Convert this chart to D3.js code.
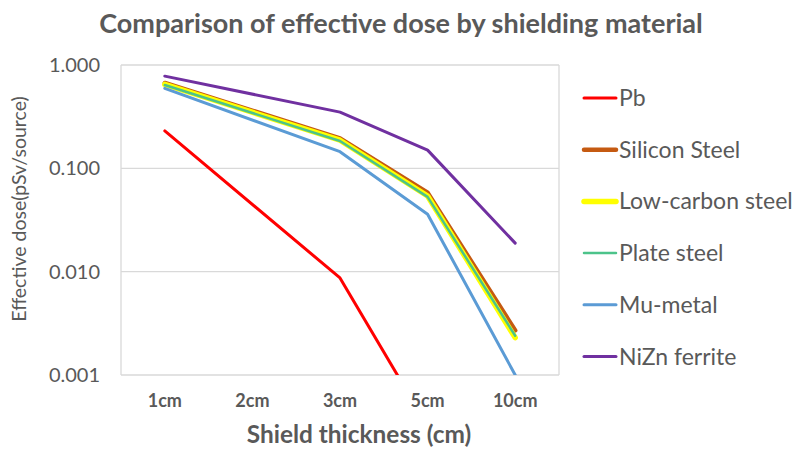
<!DOCTYPE html>
<html>
<head>
<meta charset="utf-8">
<script src="https://cdn.jsdelivr.net/npm/d3@7"></script>
<style>
  html, body { margin: 0; padding: 0; background: #fff; }
  svg { display: block; }
</style>
</head>
<body>
<svg id="chart" width="798" height="450"></svg>
<script>
const categories = ["1cm", "2cm", "3cm", "5cm", "10cm"];
const seriesNames = ["Pb", "Silicon Steel", "Low-carbon steel", "Plate steel", "Mu-metal", "NiZn ferrite"];
const pb           = [0.23, null, 0.0087, 0.00032, 0.00001];
const siliconSteel = [0.67, null, 0.195, 0.058, 0.0027];
const lowCarbon    = [0.65, null, 0.187, 0.054, 0.0023];
const plateSteel   = [0.64, null, 0.184, 0.053, 0.0024];
const muMetal      = [0.595, null, 0.145, 0.036, 0.001];
const nizn         = [0.78, null, 0.35, 0.150, 0.0189];
const yTicks = [1, 0.1, 0.01, 0.001];
const yTickLabels = ["1.000", "0.100", "0.010", "0.001"];

const seriesValues = [pb, siliconSteel, lowCarbon, plateSteel, muMetal, nizn];
const colors = ["#FF0000", "#C55A11", "#FFFF00", "#4CC38A", "#5B9BD5", "#7030A0"];
const widths = [3, 4.5, 5.5, 2.5, 3, 3];

const svg = d3.select("#chart");
const font = "Lato, 'Open Sans', sans-serif";
const textColor = "#595959";

const plot = { left: 121, right: 559, top: 65, bottom: 375 };

const x = d3.scaleBand().domain(categories).range([plot.left, plot.right]);
const y = d3.scaleLog().domain([0.001, 1]).range([plot.bottom, plot.top]);

// Title
svg.append("text")
  .attr("x", 401).attr("y", 33)
  .attr("text-anchor", "middle")
  .attr("font-family", font).attr("font-weight", "bold")
  .attr("font-size", 27).attr("fill", textColor)
  .text("Comparison of effective dose by shielding material");

// Gridlines
svg.append("g").selectAll("line").data(yTicks).join("line")
  .attr("x1", plot.left).attr("x2", plot.right)
  .attr("y1", d => y(d)).attr("y2", d => y(d))
  .attr("stroke", "#D9D9D9").attr("stroke-width", 1.3);

// plot border (left/right)
svg.append("line").attr("x1", plot.left).attr("x2", plot.left)
  .attr("y1", plot.top).attr("y2", plot.bottom).attr("stroke", "#D9D9D9").attr("stroke-width", 1.3);
svg.append("line").attr("x1", plot.right).attr("x2", plot.right)
  .attr("y1", plot.top).attr("y2", plot.bottom).attr("stroke", "#D9D9D9").attr("stroke-width", 1.3);

// Y axis labels
const yAxis = d3.axisLeft(y).tickValues(yTicks).tickSize(0).tickPadding(0)
  .tickFormat((d, i) => yTickLabels[i]);
const gy = svg.append("g").attr("transform", `translate(100,0)`).call(yAxis);
gy.select(".domain").remove();
gy.selectAll("text").attr("font-family", font).attr("font-size", 20).attr("fill", textColor);

// X axis labels
const xAxis = d3.axisBottom(x).tickSize(0).tickPadding(0);
const gx = svg.append("g").attr("transform", `translate(0,394)`).call(xAxis);
gx.select(".domain").remove();
gx.selectAll("text").attr("font-family", font).attr("font-weight", "bold")
  .attr("font-size", 18).attr("fill", textColor);

// Axis titles
svg.append("text")
  .attr("transform", "translate(26,209) rotate(-90)")
  .attr("text-anchor", "middle")
  .attr("font-family", font).attr("font-size", 19.5).attr("fill", textColor)
  .text("Effective dose(pSv/source)");
svg.append("text")
  .attr("x", 359).attr("y", 443)
  .attr("text-anchor", "middle")
  .attr("font-family", font).attr("font-weight", "bold")
  .attr("font-size", 24.4).attr("fill", textColor)
  .text("Shield thickness (cm)");

// clip
svg.append("clipPath").attr("id", "clip").append("rect")
  .attr("x", plot.left).attr("y", plot.top - 10)
  .attr("width", plot.right - plot.left).attr("height", plot.bottom - plot.top + 10);

const line = d3.line()
  .x(d => x(d.cat) + x.bandwidth() / 2)
  .y(d => y(d.v));

const g = svg.append("g").attr("clip-path", "url(#clip)");
seriesValues.forEach((vals, i) => {
  const pts = categories.map((c, j) => ({ cat: c, v: vals[j] })).filter(d => d.v != null);
  g.append("path").datum(pts)
    .attr("d", line)
    .attr("fill", "none")
    .attr("stroke", colors[i])
    .attr("stroke-width", widths[i])
    .attr("stroke-linejoin", "round")
    .attr("stroke-linecap", "round");
});

// Legend
const legend = svg.append("g");
seriesNames.forEach((name, i) => {
  const ly = 98 + i * 51.7;
  legend.append("line")
    .attr("x1", 584).attr("x2", 616).attr("y1", ly).attr("y2", ly)
    .attr("stroke", colors[i]).attr("stroke-width", widths[i])
    .attr("stroke-linecap", "round");
  legend.append("text")
    .attr("x", 619).attr("y", ly).attr("dy", "0.35em")
    .attr("font-family", font).attr("font-size", 23).attr("fill", textColor)
    .text(name);
});
</script>
</body>
</html>
